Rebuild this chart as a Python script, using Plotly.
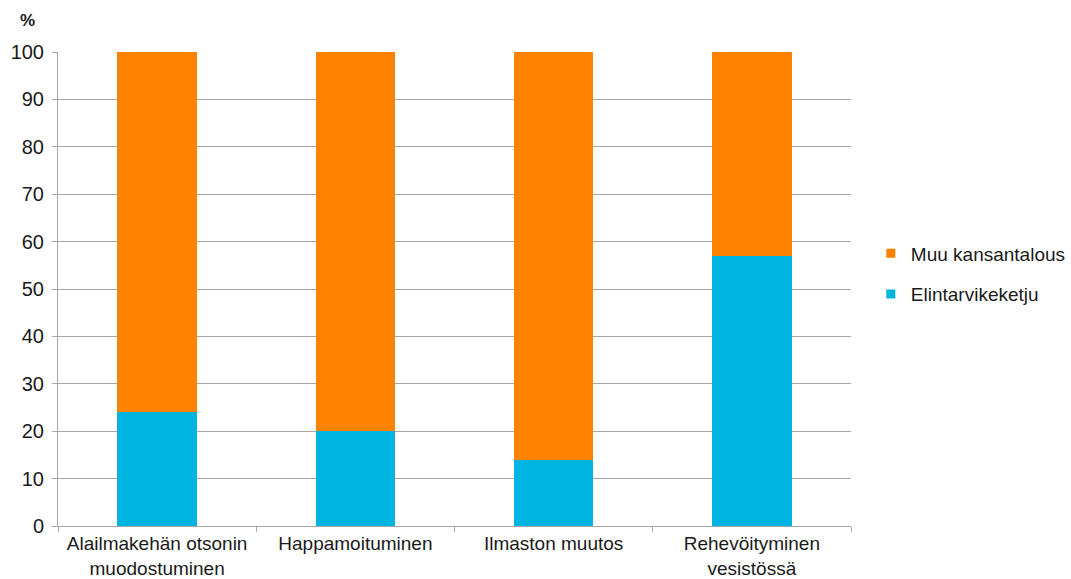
import plotly.graph_objects as go

# Environmental impact shares, food chain vs. rest of the economy (%)
categories = [
    "Alailmakehän otsonin<br>muodostuminen",
    "Happamoituminen",
    "Ilmaston muutos",
    "Rehevöityminen<br>vesistössä",
]
elintarvikeketju = [24, 20, 14, 57]
muu_kansantalous = [76, 80, 86, 43]

series_names = ["Elintarvikeketju", "Muu kansantalous"]
series_colors = ["#00B4E2", "#FF8200"]
y_ticks = [0, 10, 20, 30, 40, 50, 60, 70, 80, 90, 100]

font_family = "Liberation Sans, Arial, sans-serif"
text_color = "#1a1a1a"
grid_color = "#a6a6a6"

fig = go.Figure()

for name, values, color in zip(series_names, [elintarvikeketju, muu_kansantalous], series_colors):
    fig.add_trace(go.Bar(
        x=categories, y=values, name=name,
        marker=dict(color=color, line=dict(width=0)),
        showlegend=False,
    ))

# Legend entries with small square swatches, orange listed first
for name, color in zip(series_names[::-1], series_colors[::-1]):
    fig.add_trace(go.Scatter(
        x=[None], y=[None], mode="markers", name=name,
        marker=dict(symbol="square", size=9, color=color),
        legendgroup=name,
    ))

fig.update_layout(
    width=1071, height=579,
    barmode="stack", bargap=0.6,
    paper_bgcolor="white", plot_bgcolor="white",
    margin=dict(l=58, r=220, t=52, b=53, autoexpand=False),
    font=dict(family=font_family, size=19, color=text_color),
    legend=dict(
        x=1.025, y=0.532, xanchor="left", yanchor="middle",
        traceorder="grouped", tracegroupgap=13,
        font=dict(size=19, color=text_color),
        itemwidth=30,
    ),
    annotations=[dict(
        text="<b>%</b>", xref="paper", yref="paper",
        x=-0.05, y=1.043, xanchor="left", yanchor="bottom",
        showarrow=False, font=dict(size=17, color=text_color),
    )],
)

fig.update_xaxes(
    type="category", tickson="boundaries", automargin=False,
    showgrid=False, showline=True, linecolor=grid_color, linewidth=1,
    ticks="outside", ticklen=5, tickcolor=grid_color,
    ticklabelstandoff=0,
    tickfont=dict(size=19, color=text_color),
)
fig.update_yaxes(
    range=[0, 100], tickvals=y_ticks, automargin=False,
    showgrid=True, gridcolor=grid_color, gridwidth=1,
    showline=True, linecolor=grid_color, linewidth=1,
    ticks="outside", ticklen=5, tickcolor=grid_color,
    ticklabelstandoff=4,
    tickfont=dict(size=20, color=text_color),
    zeroline=False,
)

fig.write_html("out.html")
